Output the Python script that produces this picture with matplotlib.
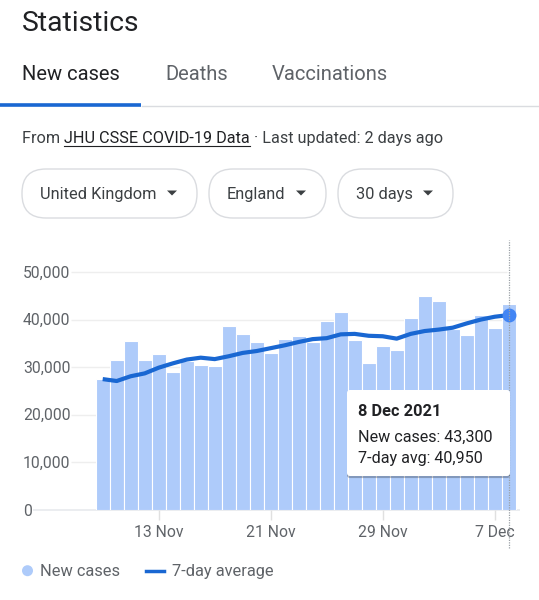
import matplotlib
matplotlib.use("Agg")
import matplotlib.pyplot as plt
import matplotlib.patches as mpatches
import matplotlib.patheffects as pe
import pandas as pd

plt.rcParams['font.family'] = ['Roboto', 'DejaVu Sans']

# data (9 Nov - 8 Dec 2021, England)
dates = pd.date_range("2021-11-09", "2021-12-08")
new_cases = [27500, 31500, 35500, 31600, 32800, 29000, 31200, 30500, 30300, 38600,
             37000, 35200, 33000, 36000, 36500, 35300, 39800, 41500, 35800, 30900,
             34500, 33600, 40300, 45000, 43900, 38000, 36800, 41000, 38300, 43300]
avg_7day = [27500, 27100, 28100, 28700, 29900, 30800, 31600, 32000, 31700, 32300,
            33000, 33400, 34000, 34600, 35300, 35900, 36100, 36900, 37000, 36600,
            36500, 36000, 37000, 37600, 37900, 38300, 39200, 40000, 40600, 40950]
y_ticks = [0, 10000, 20000, 30000, 40000, 50000]
x_tick_labels = ["13 Nov", "21 Nov", "29 Nov", "7 Dec"]
tabs = ["New cases", "Deaths", "Vaccinations"]
pills = ["United Kingdom", "England", "30 days"]

W, H = 539, 600
DARK = "#202124"
GREY = "#5f6368"
BAR = "#aecbfa"
LINE = "#1967d2"

fig = plt.figure(figsize=(W / 100, H / 100), dpi=100, facecolor="white")
px = fig.dpi_scale_trans  # inches; 1 px = 0.01 in


def P(x, y):
    # pixel (top-left origin) -> inches for dpi_scale_trans
    return x / 100, (H - y) / 100


def ftext(x, y, s, **kw):
    return fig.text(*P(x, y), s, transform=px, **kw)


# header
ftext(22, 31, "Statistics", fontsize=20.3, color=DARK, va="baseline")
for s, x in zip(tabs, [22, 165, 272]):
    ftext(x, 80, s, fontsize=14.5, color=DARK if s == "New cases" else GREY, va="baseline")
fig.add_artist(plt.Line2D([1.42, 5.39], [(H - 106.3) / 100] * 2, transform=px, color="#dadce0", lw=1))
fig.add_artist(plt.Line2D([0, 1.41], [(H - 105) / 100] * 2, transform=px, color=LINE, lw=2.6,
                          solid_capstyle="butt"))

# source line with underlined link
r = fig.canvas.get_renderer()
t1 = ftext(22, 143, "From ", fontsize=11.7, color="#3c4043", va="baseline")
x1 = t1.get_window_extent(r).x1
t2 = fig.text(x1 / 100, (H - 143) / 100, "JHU CSSE COVID-19 Data", transform=px,
              fontsize=11.7, color=DARK, va="baseline")
bb = t2.get_window_extent(r)
fig.add_artist(plt.Line2D([bb.x0 / 100, bb.x1 / 100], [(H - 145.5) / 100] * 2, transform=px,
                          color=DARK, lw=0.8))
fig.text(bb.x1 / 100, (H - 143) / 100, " \u00b7 Last updated: 2 days ago", transform=px,
         fontsize=11.7, color="#3c4043", va="baseline")

# dropdown pills
for s, (x0, x1p), tx, ax_ in zip(pills, [(22, 197), (209, 326), (338, 453)], [40, 227, 356],
                                [172, 301, 428]):
    box = mpatches.FancyBboxPatch(P(x0, 218), (x1p - x0) / 100, 0.49,
                                  boxstyle="round,pad=0,rounding_size=0.24",
                                  transform=px, facecolor="white", edgecolor="#dadce0", lw=1)
    fig.add_artist(box)
    ftext(tx, 199, s, fontsize=11.8, color="#3c4043", va="baseline")
    tri = mpatches.Polygon([P(ax_ - 5, 190.5), P(ax_ + 5, 190.5), P(ax_, 195.5)],
                           closed=True, transform=px, facecolor="#3c4043", edgecolor="none")
    fig.add_artist(tri)

# chart axes: px 33..520 horizontally, 240..510 vertically
ax = fig.add_axes([33 / W, 1 - 510 / H, (520 - 33) / W, (510 - 240) / H])
x = list(range(len(dates)))
x_left = (33 - 102.7) / 14
x_right = (520 - 102.7) / 14
ymax = (510 - 240) / 4.76 * 1000
ax.set_xlim(x_left, x_right)
ax.set_ylim(0, ymax)
for s in ax.spines.values():
    s.set_visible(False)
ax.set_yticks([])

grid_start = (71 - 102.7) / 14
for v in y_ticks:
    if v == 0:
        ax.hlines(v, x_left, x_right, color="#e8eaed", lw=1.2, zorder=0, clip_on=False)
    else:
        ax.hlines(v, grid_start, x[-1] - 0.1, color="#eeeeee", lw=1, zorder=0)
    ax.text((23 - 102.7) / 14, v - 5.5 / 4.76 * 1000, f"{v:,}", ha="left", va="baseline",
            fontsize=11.3, color=GREY, clip_on=False)

ax.bar(x, new_cases, width=1.0, color=BAR, edgecolor="white", linewidth=0.8, zorder=1)
ax.plot(x, avg_7day, color=LINE, lw=3, zorder=3, solid_capstyle="butt")
ax.plot(x[-1], avg_7day[-1], "o", color="#4285f4", markersize=9, zorder=4)
ax.plot([x[-1], x[-1]], [-38 / 4.76 * 1000, ymax], color="#9aa0a6", lw=0.9,
        ls=(0, (1, 1)), zorder=5, clip_on=False)

tick_pos = [i for i, d in enumerate(dates) if f"{d.day} {d.strftime('%b')}" in x_tick_labels]
ax.set_xticks(tick_pos)
ax.set_xticklabels(x_tick_labels, fontsize=11.3, color=GREY)
ax.tick_params(axis="x", length=7, width=1, color="#e0e0e0", pad=4)

# tooltip
tip = mpatches.FancyBboxPatch(P(347, 476), 1.63, 0.86, boxstyle="round,pad=0,rounding_size=0.03",
                              transform=px, facecolor="white", edgecolor="none", zorder=10,
                              path_effects=[pe.withSimplePatchShadow(offset=(0, -1.5),
                                                                     shadow_rgbFace="black",
                                                                     alpha=0.25)])
fig.add_artist(tip)
d = dates[-1]
ftext(358, 416, f"{d.day} {d.strftime('%b %Y')}", fontsize=11.8, fontweight="bold",
      color=DARK, va="baseline", zorder=11)
ftext(358, 441.5, f"New cases: {new_cases[-1]:,}", fontsize=11.6, color=DARK,
      va="baseline", zorder=11)
ftext(358, 463, f"7-day avg: {avg_7day[-1]:,}", fontsize=11.6, color=DARK,
      va="baseline", zorder=11)

# legend
fig.add_artist(mpatches.Circle(P(27.5, 570.7), 0.055, transform=px, facecolor=BAR,
                               edgecolor="none"))
ftext(40, 576, "New cases", fontsize=11.8, color=GREY, va="baseline")
fig.add_artist(plt.Line2D([1.46, 1.64], [(H - 571) / 100] * 2, transform=px, color=LINE, lw=2.5))
ftext(172, 576, "7-day average", fontsize=11.8, color=GREY, va="baseline")

fig.savefig("out.png", dpi=100, facecolor="white")
